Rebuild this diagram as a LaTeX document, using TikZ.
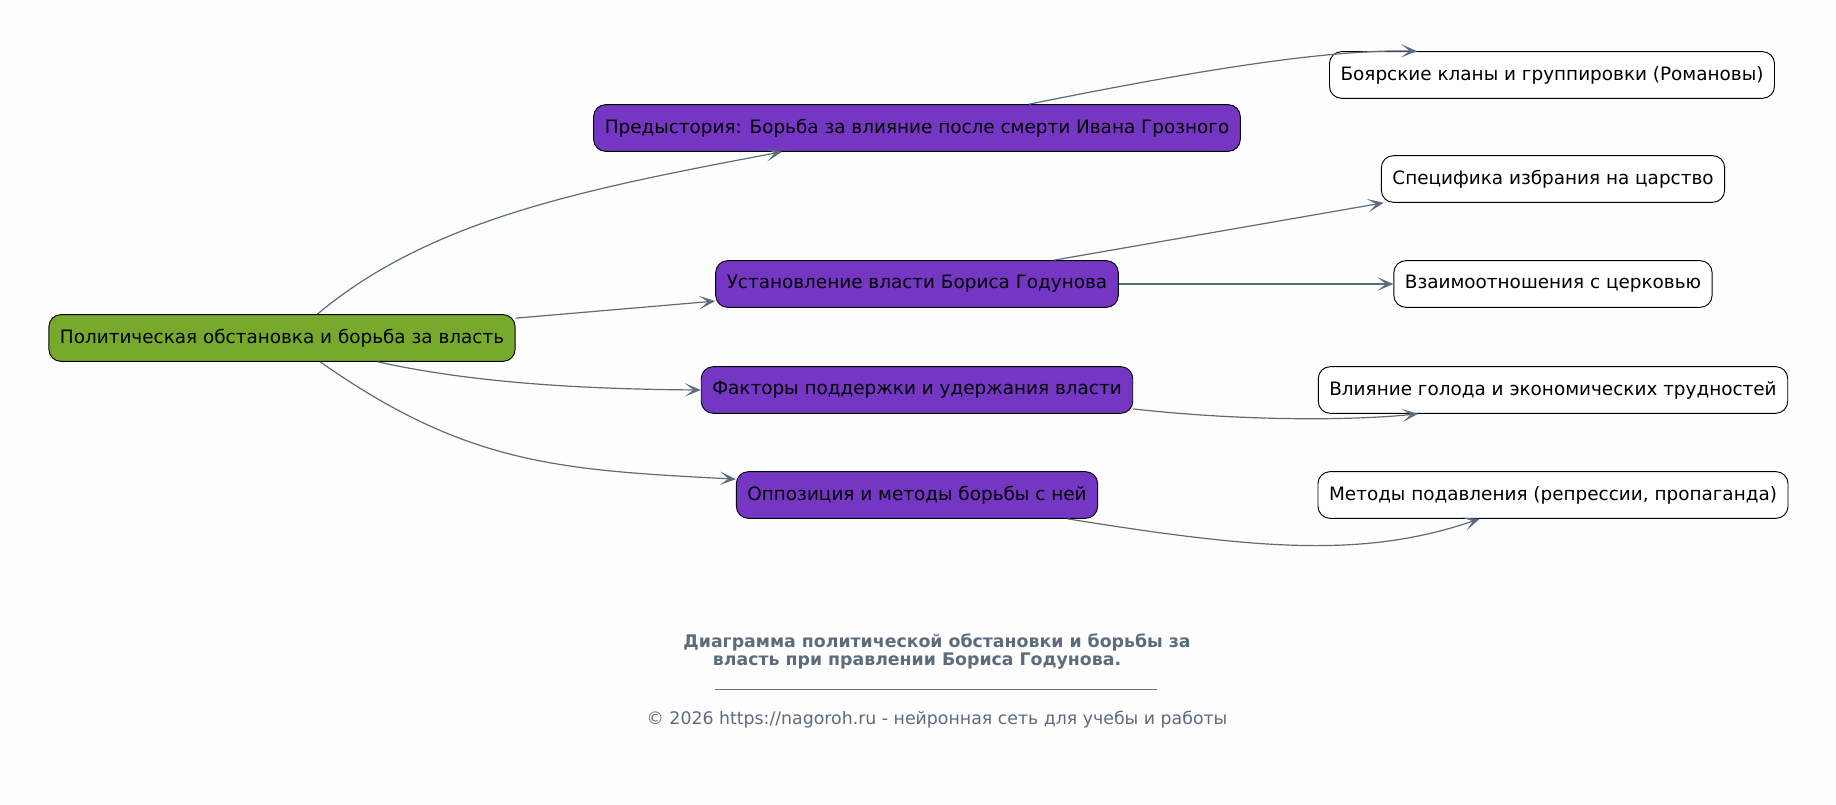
\documentclass[tikz,border=0pt]{standalone}
\usepackage{fontspec}
\setmainfont{DejaVu Sans}
\usetikzlibrary{arrows.meta}

\definecolor{bgcol}{RGB}{253,253,253}
\definecolor{rootgreen}{RGB}{119,169,44}
\definecolor{branchpurple}{RGB}{117,54,196}
\definecolor{edgegray}{RGB}{93,108,125}

\begin{document}
\begin{tikzpicture}[x=0.75pt,y=0.75pt,
  box/.style={draw=black,line width=0.7pt,rounded corners=9pt,minimum height=35pt,inner xsep=8.3pt,font=\fontsize{13.8}{16}\selectfont,text=black},
  rootbox/.style={box,fill=rootgreen},
  midbox/.style={box,fill=branchpurple},
  leafbox/.style={box,fill=white},
  edge/.style={draw=edgegray,line width=0.9pt,-{Stealth[length=12pt,width=10pt,inset=6.5pt]}}]

\fill[bgcol] (0,0) rectangle (1836,-805);
\useasboundingbox (0,0) rectangle (1836,-805);

\node[rootbox] (root) at (282,-338) {Политическая обстановка и борьба за власть};

\node[midbox] (pred) at (917,-128) {Предыстория: Борьба за влияние после смерти Ивана Грозного};
\node[midbox] (ust) at (917,-284) {Установление власти Бориса Годунова};
\node[midbox] (fakt) at (917,-390) {Факторы поддержки и удержания власти};
\node[midbox] (opp) at (917,-495) {Оппозиция и методы борьбы с ней};

\node[leafbox] (boyar) at (1552,-75) {Боярские кланы и группировки (Романовы)};
\node[leafbox] (spec) at (1553,-179) {Специфика избрания на царство};
\node[leafbox] (church) at (1553,-284) {Взаимоотношения с церковью};
\node[leafbox] (famine) at (1553,-390) {Влияние голода и экономических трудностей};
\node[leafbox] (repr) at (1553,-495) {Методы подавления (репрессии, пропаганда)};

\draw[edge] (root.34) .. controls (431,-219) and (585,-189) .. (pred.190);
\draw[edge] (root) -- (ust);
\draw[edge] (root.-14) .. controls (460,-380) and (560,-389) .. (fakt.west);
\draw[edge] (root.-32) .. controls (467,-465) and (560,-470) .. (opp.175);

\draw[edge] (pred.12) .. controls (1174,-75) and (1320,-49) .. (boyar.170);
\draw[edge] (ust) -- (spec.188);
\draw[edge] (ust) -- (church);
\draw[edge] (fakt.-5) .. controls (1250,-422) and (1360,-420) .. (famine.190);
\draw[edge] (opp.-9) .. controls (1261,-550) and (1365,-558) .. (repr.198);

\node[text=edgegray,font=\bfseries\fontsize{13}{13.5}\selectfont,align=center] (title) at (937,-652)
  {Диаграмма политической обстановки и борьбы за\\власть при правлении Бориса Годунова.\hspace*{30pt}};
\coordinate (ruleL) at (715,-689);
\coordinate (ruleR) at (1157,-689);
\draw[edgegray,line width=0.6pt] (ruleL) -- (ruleR);
\node[text=edgegray,font=\fontsize{13}{15}\selectfont] (copy) at (937,-720) {© 2026 https://nagoroh.ru - нейронная сеть для учебы и работы};

\end{tikzpicture}
\end{document}
